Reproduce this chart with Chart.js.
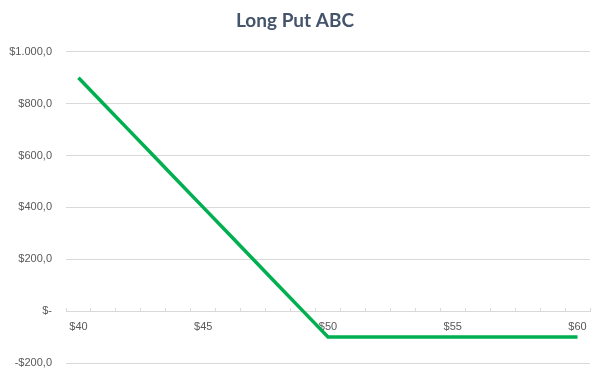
<!DOCTYPE html>
<html>
<head>
<meta charset="utf-8">
<script src="https://cdn.jsdelivr.net/npm/chart.js@4/dist/chart.umd.min.js"></script>
<style>
  body { margin: 0; background: #fff; }
  #wrap { width: 602px; height: 374px; }
</style>
</head>
<body>
<div id="wrap"><canvas id="put-chart"></canvas></div>
<script>
// strike prices on the x axis, one per dollar
let prices = ["$40", "$41", "$42", "$43", "$44", "$45", "$46", "$47", "$48", "$49", "$50",
  "$51", "$52", "$53", "$54", "$55", "$56", "$57", "$58", "$59", "$60"];
// profit / loss of the long put
let profit = [900, 800, 700, 600, 500, 400, 300, 200, 100, 0, -100,
  -100, -100, -100, -100, -100, -100, -100, -100, -100, -100];
let yTicks = [-200, 0, 200, 400, 600, 800, 1000];

// excel style accounting format: $1.000,0 / $- / -$200,0
function money(v) {
  if (v === 0) return "$-";
  let s = Math.abs(v).toFixed(1).replace(".", ",");
  s = s.replace(/\B(?=(\d{3})+(?!\d))/g, ".");
  return (v < 0 ? "-$" : "$") + s;
}

let tickFont = { family: "Liberation Sans", size: 11 };

let ctx = document.getElementById("put-chart").getContext("2d");
let chart = new Chart(ctx, {
  type: "line",
  data: {
    labels: prices,
    datasets: [
      {
        label: "Long Put ABC",
        data: profit,
        borderColor: "#00B050",
        borderWidth: 3.5,
        pointRadius: 0,
        tension: 0,
      },
    ],
  },
  options: {
    responsive: true,
    maintainAspectRatio: false,
    animation: false,
    layout: { padding: { left: 0, right: 12, top: 0, bottom: 11 } },
    plugins: {
      legend: { display: false },
      tooltip: { enabled: false },
      title: {
        display: true,
        text: "Long Put ABC",
        color: "#44546A",
        font: { family: "Lato", size: 19, weight: "bold" },
        padding: { top: 9, bottom: 20 },
      },
    },
    scales: {
      x: {
        position: { y: 0 },
        offset: true,
        // the axis sits at y = 0 inside the plot, so it takes no room
        afterFit: function (s) { s.height = 0; },
        grid: {
          offset: true,
          drawOnChartArea: false,
          tickLength: -4,
          color: "#d9d9d9",
        },
        border: { color: "#d9d9d9" },
        ticks: {
          autoSkip: false,
          maxRotation: 0,
          padding: 13,
          color: "#595959",
          font: tickFont,
          callback: function (val, i) {
            return i % 5 === 0 ? prices[i] : "";
          },
        },
      },
      y: {
        min: -200,
        max: 1000,
        afterFit: function (s) {
          s.width = 66;
          // tick padding would otherwise push the plot bottom up
          s.paddingTop = 0;
          s.paddingBottom = 0;
        },
        afterBuildTicks: function (s) {
          s.ticks = yTicks.map(function (v) { return { value: v }; });
        },
        grid: { color: "#d9d9d9", drawTicks: false },
        border: { display: false },
        ticks: {
          padding: 14,
          color: "#595959",
          font: tickFont,
          callback: function (v) { return money(v); },
        },
      },
    },
  },
});
</script>
</body>
</html>
